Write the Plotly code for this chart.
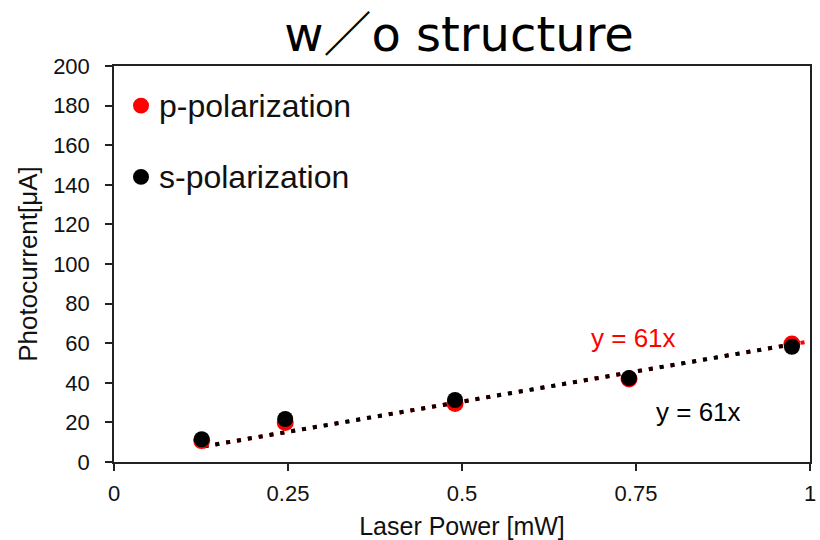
import plotly.graph_objects as go

# Measured photocurrent vs. laser power
power_mw = [0.126, 0.246, 0.49, 0.74, 0.974]
p_pol_ua = [10.8, 19.9, 29.6, 41.9, 59.6]
s_pol_ua = [11.5, 21.7, 31.3, 42.4, 58.2]

# Linear fits through the origin: y = slope * x
p_slope = 61
s_slope = 61
p_fit_x = [0.13, 0.997]
s_fit_x = [0.13, 0.975]

x_ticks = [0, 0.25, 0.5, 0.75, 1]
x_tick_text = ["0", "0.25", "0.5", "0.75", "1"]
y_ticks = list(range(0, 201, 20))

RED = "#ff0000"
BLACK = "#000000"
FONT = "Liberation Sans, Arial, sans-serif"

fig = go.Figure()

fig.add_trace(go.Scatter(
    x=p_fit_x, y=[p_slope * v for v in p_fit_x], mode="lines",
    line=dict(color=RED, width=4, dash="4px,7px"), hoverinfo="skip"))
fig.add_trace(go.Scatter(
    x=s_fit_x, y=[s_slope * v for v in s_fit_x], mode="lines",
    line=dict(color=BLACK, width=4, dash="4px,7px"), hoverinfo="skip"))
fig.add_trace(go.Scatter(
    x=power_mw, y=p_pol_ua, mode="markers", name="p-polarization",
    marker=dict(color=RED, size=17)))
fig.add_trace(go.Scatter(
    x=power_mw, y=s_pol_ua, mode="markers", name="s-polarization",
    marker=dict(color=BLACK, size=16)))

axis_common = dict(
    showgrid=False, zeroline=False, showline=True, linecolor="#222",
    linewidth=1.5, mirror=True, ticks="outside", ticklen=7,
    tickcolor="#222", tickwidth=1.5, automargin=False,
    ticklabeloverflow="allow",
    tickfont=dict(family=FONT, size=22, color="#111"),
)

fig.update_xaxes(
    range=[0, 1], tickvals=x_ticks, ticktext=x_tick_text,
    ticklabelstandoff=4,
    title=dict(text="Laser Power [mW]", font=dict(family=FONT, size=25, color="#111"),
               standoff=14),
    **axis_common)
fig.update_yaxes(
    range=[0, 200], tickvals=y_ticks,
    ticklabelstandoff=11,
    title=dict(text="Photocurrent[μA]", font=dict(family=FONT, size=26, color="#111"),
               standoff=8),
    **axis_common)

# Legend drawn as dots with labels in the upper-left corner
legend_items = [("p-polarization", RED, 180), ("s-polarization", BLACK, 144)]
for label, color, yv in legend_items:
    fig.add_shape(type="circle", xref="paper", yref="y",
                  x0=(133 - 114) / 696, x1=(149 - 114) / 696,
                  y0=yv - 4.0, y1=yv + 4.0,
                  fillcolor=color, line=dict(width=0))
    fig.add_annotation(x=(157 - 114) / 696, xref="paper", y=yv, yref="y",
                       text=label, showarrow=False, xanchor="left", yanchor="middle",
                       font=dict(family=FONT, size=32, color="#111"))

# Fit equations
fig.add_annotation(x=0.746, y=62.5, text=f"y = {p_slope}x", showarrow=False,
                   xanchor="center", yanchor="middle",
                   font=dict(family=FONT, size=26, color=RED))
fig.add_annotation(x=0.84, y=25.5, text=f"y = {s_slope}x", showarrow=False,
                   xanchor="center", yanchor="middle",
                   font=dict(family=FONT, size=26, color=BLACK))

fig.update_layout(
    width=820, height=540,
    margin=dict(l=114, r=10, t=66, b=78),
    plot_bgcolor="white", paper_bgcolor="white",
    showlegend=False,
    title=dict(text="w／o structure", x=459 / 820, xanchor="center",
               y=1 - 34 / 540, yanchor="middle", yref="container",
               font=dict(family="DejaVu Sans, Noto Sans CJK JP", size=48, color="#000")),
)

fig.write_html("out.html")
